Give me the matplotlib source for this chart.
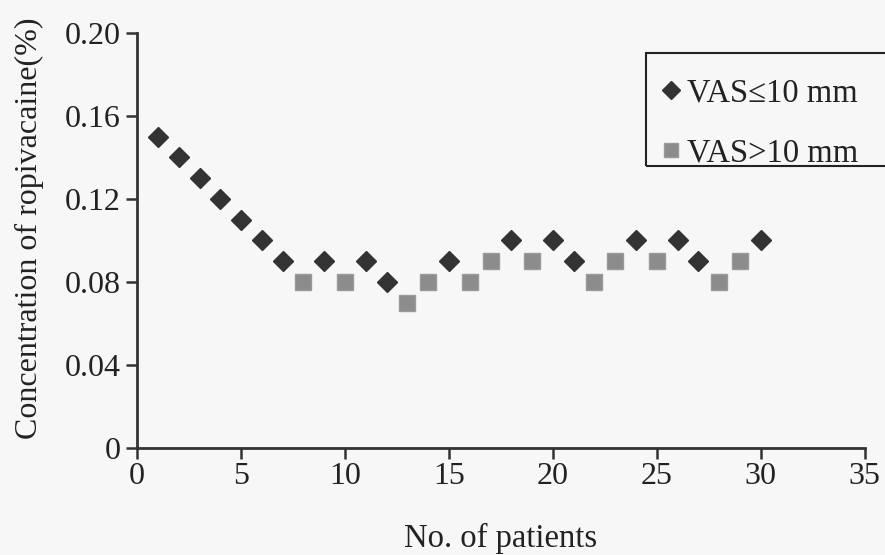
import numpy as np
import matplotlib
matplotlib.use("Agg")
import matplotlib.pyplot as plt
from matplotlib.patches import Rectangle

plt.rcParams['font.family'] = ['Liberation Serif', 'DejaVu Serif']

# patient number and concentration (%) for each group
low_x = [1, 2, 3, 4, 5, 6, 7, 9, 11, 12, 15, 18, 20, 21, 24, 26, 27, 30]
low_y = [0.15, 0.14, 0.13, 0.12, 0.11, 0.10, 0.09, 0.09, 0.09, 0.08,
         0.09, 0.10, 0.10, 0.09, 0.10, 0.10, 0.09, 0.10]
high_x = [8, 10, 13, 14, 16, 17, 19, 22, 23, 25, 28, 29]
high_y = [0.08, 0.08, 0.07, 0.08, 0.08, 0.09, 0.09, 0.08, 0.09, 0.09, 0.08, 0.09]

xticks = [0, 5, 10, 15, 20, 25, 30, 35]
yticks = [0, 0.04, 0.08, 0.12, 0.16, 0.20]
ytick_labels = ['0', '0.04', '0.08', '0.12', '0.16', '0.20']

W, H = 885, 555
fig = plt.figure(figsize=(W / 100, H / 100), dpi=100)
fig.patch.set_facecolor('#f7f7f7')
ax = fig.add_axes([0.155, 0.193, 0.822, 0.748])
ax.set_facecolor('#f7f7f7')

ax.plot(low_x, low_y, linestyle='none', marker='D', markersize=10,
        color='#333333', markeredgecolor='#333333', label='VAS≤10 mm', clip_on=False)
ax.plot(high_x, high_y, linestyle='none', marker='s', markersize=11,
        color='#8c8c8c', markeredgecolor='#9a9a9a', label='VAS>10 mm', clip_on=False)

ax.set_xlim(0, 35)
ax.set_ylim(0, 0.20)
ax.set_xticks(xticks)
ax.set_yticks(yticks)
ax.set_yticklabels(ytick_labels)

for s in ['top', 'right']:
    ax.spines[s].set_visible(False)
for s in ['left', 'bottom']:
    ax.spines[s].set_linewidth(2)
    ax.spines[s].set_color('#333333')

ax.tick_params(axis='both', direction='out', length=8, width=1.8,
               color='#333333', labelsize=23, labelcolor='#222222', pad=4)
ax.tick_params(axis='x', pad=2)

ax.set_xlabel('No. of patients', fontsize=23.5, color='#222222', labelpad=23)
ax.set_ylabel('Concentration of ropivacaine(%)', fontsize=23, color='#222222')
ax.yaxis.set_label_coords(-0.128, 0.53)

# legend box runs off the right edge, as in the scan
fig.patches.append(Rectangle((646 / W, 1 - 166 / H), 260 / W, 113 / H,
                             transform=fig.transFigure, fill=False,
                             edgecolor='#222222', linewidth=1.5))
leg = fig.legend(loc='upper left', bbox_to_anchor=(658 / W, 1 - 78 / H),
                 fontsize=23.5, frameon=False, markerscale=0.95,
                 handletextpad=0.1, handlelength=0.8, labelspacing=0.9,
                 borderpad=0, borderaxespad=0)
for t in leg.get_texts():
    t.set_color('#222222')

fig.savefig('out.png', dpi=100, facecolor=fig.get_facecolor())
